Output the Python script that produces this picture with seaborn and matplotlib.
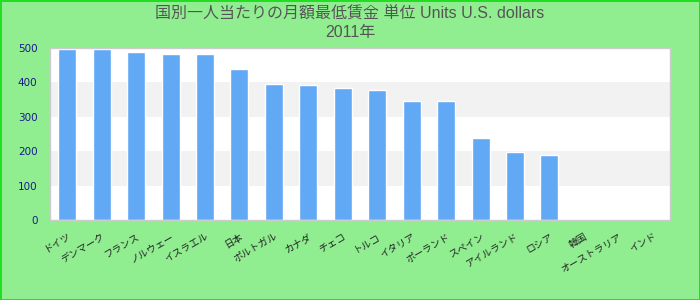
import numpy as np
import pandas as pd
import matplotlib
matplotlib.use("Agg")
import matplotlib.pyplot as plt
import seaborn as sns

# ---- data ----
categories = ["ドイツ", "デンマーク", "フランス", "ノルウェー", "イスラエル", "日本",
              "ポルトガル", "カナダ", "チェコ", "トルコ", "イタリア", "ポーランド",
              "スペイン", "アイルランド", "ロシア", "韓国", "オーストラリア", "インド"]
values = [497, 497, 488, 483, 483, 439, 395, 392, 384, 378, 346, 346,
          238, 198, 189, np.nan, np.nan, np.nan]
y_ticks = [0, 100, 200, 300, 400, 500]
title_line1 = "国別一人当たりの月額最低賃金 単位 Units U.S. dollars"
title_line2 = "2011年"

df = pd.DataFrame({"category": categories, "value": values})

sns.set_theme(style="white")
plt.rcParams["font.family"] = ["DejaVu Sans", "Noto Sans CJK JP"]

fig = plt.figure(figsize=(7, 3), dpi=100)
fig.patch.set_facecolor("#90EE90")
fig.patch.set_edgecolor("#22DD22")
fig.patch.set_linewidth(2)

ax = fig.add_axes([50 / 700, 1 - 220 / 300, 620 / 700, 172 / 300])
ax.set_facecolor("white")

# alternating bands
for lo, hi in [(100, 200), (300, 400)]:
    ax.axhspan(lo, hi, color="#F2F2F2", zorder=0, lw=0)

sns.barplot(data=df, x="category", y="value", order=categories,
            color="#62A9F5", saturation=1, width=0.52, ax=ax, zorder=2)

ax.set_ylim(0, 500)
ax.set_xlim(-0.5, len(categories) - 0.5)
ax.set_yticks(y_ticks)
ax.set_yticklabels([str(t) for t in y_ticks], color="#1a1a8c", fontsize=7.5,
                   family=["DejaVu Sans"])
ax.tick_params(axis="y", length=0, pad=9)
ax.tick_params(axis="x", length=0, pad=8)
ax.set_xticks(range(len(categories)))
ax.set_xticklabels(categories, rotation=30, ha="right", rotation_mode="anchor",
                   fontsize=7, color="#222222",
                   family=["Noto Sans CJK JP", "DejaVu Sans"])
ax.set_xlabel("")
ax.set_ylabel("")
for s in ax.spines.values():
    s.set_color("#CCCCCC")
    s.set_linewidth(1)

fig.text(0.5, 1 - 14 / 300, title_line1, ha="center", va="center",
         fontsize=11.5, color="#555555",
         family=["Liberation Sans", "Noto Sans CJK JP"])
fig.text(0.5, 1 - 33 / 300, title_line2, ha="center", va="center",
         fontsize=11.5, color="#555555",
         family=["Liberation Sans", "Noto Sans CJK JP"])

fig.savefig("out.png", dpi=100, facecolor=fig.get_facecolor(),
            edgecolor=fig.get_edgecolor())
